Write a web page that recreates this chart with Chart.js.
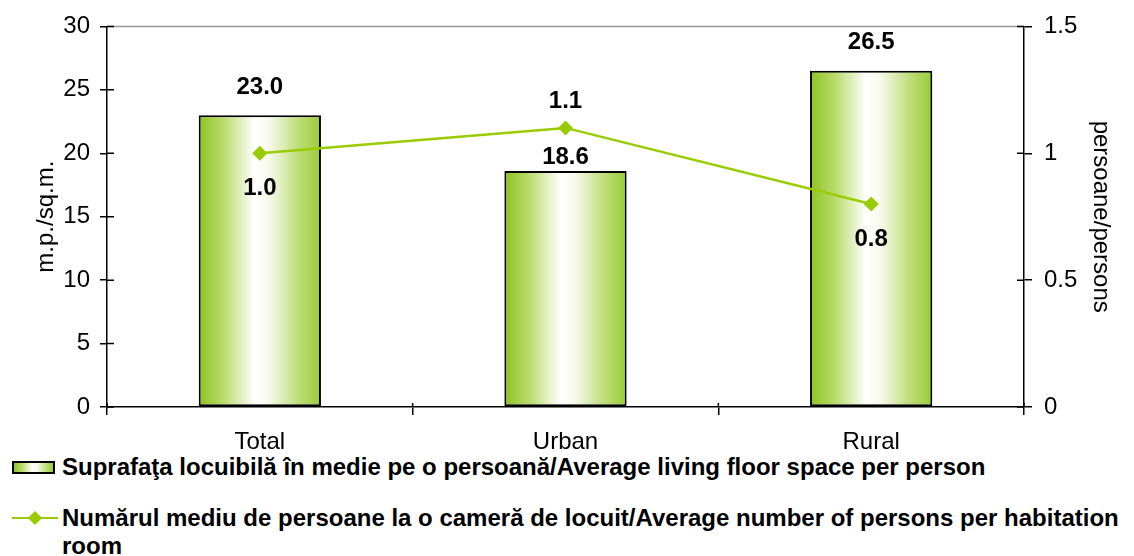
<!DOCTYPE html>
<html>
<head>
<meta charset="utf-8">
<script src="https://cdn.jsdelivr.net/npm/chart.js@4.4.0/dist/chart.umd.min.js"></script>
<style>
  body { margin: 0; background: #fff; font-family: "Liberation Sans", Arial, sans-serif; }
  #wrap { position: relative; width: 1134px; height: 556px; }
  #box { position: absolute; left: 0; top: 0; width: 1134px; height: 450px; }
  .leg { position: absolute; left: 12px; font-weight: bold; font-size: 24px; color: #000; line-height: 28px; }
  .leg .txt { position: absolute; left: 50px; top: 0; width: 1068px; }
  .sw { position: absolute; left: 0; top: 8px; width: 43px; height: 13px; box-sizing: border-box;
        border: 2px solid #000;
        background: linear-gradient(to right, #8fc31f 0%, #b8db6a 20%, #ffffff 48%, #f3f9e4 60%, #99cc33 100%); }
  .ln { position: absolute; left: 0; top: 13px; width: 46px; height: 2px; background: #99cc00; }
  .dm { position: absolute; left: 18px; top: 9px; width: 10px; height: 10px; background: #99cc00; transform: rotate(45deg); }
</style>
</head>
<body>
<div id="wrap">
  <div id="box"><canvas id="c"></canvas></div>
  <div class="leg" style="top:453px; height:28px; width:1120px;">
    <div class="sw"></div>
    <div class="txt">Suprafaţa locuibilă în medie pe o persoană/Average living floor space per person</div>
  </div>
  <div class="leg" style="top:504px; width:1120px;">
    <div class="ln"></div><div class="dm"></div>
    <div class="txt">Numărul mediu de persoane la o cameră de locuit/Average number of persons per habitation room</div>
  </div>
</div>
<script>
// categories and values
const categories = ['Total', 'Urban', 'Rural'];
const floorSpace = [23.0, 18.6, 26.5];
const personsPerRoom = [1.0, 1.1, 0.8];
const leftTicks = [0, 5, 10, 15, 20, 25, 30];
const rightTicks = [0, 0.5, 1, 1.5];

const green = '#99cc00';
const barPct = 0.4;

function barGradient(ctx) {
    const chart = ctx.chart;
    const x = chart.scales.x;
    if (!chart.chartArea || !x || ctx.dataIndex === undefined) return '#c5e07a';
    const cx = x.getPixelForValue(ctx.dataIndex);
    const w = (x.right - x.left) / categories.length * barPct;
    const g = chart.ctx.createLinearGradient(cx - w / 2, 0, cx + w / 2, 0);
    g.addColorStop(0, '#8fc31f');
    g.addColorStop(0.2, '#b8db6a');
    g.addColorStop(0.46, '#ffffff');
    g.addColorStop(0.58, '#f6faea');
    g.addColorStop(0.8, '#c2df80');
    g.addColorStop(1, '#99cc33');
    return g;
}

// value labels, offsets in px (negative = above)
const barLabelOffset = [-28, -14, -28];
const lineLabelOffset = [35, -27, 35];

const labelsPlugin = {
    id: 'labels',
    afterDatasetsDraw(chart) {
        const c = chart.ctx;
        c.save();
        c.font = 'bold 24px "Liberation Sans", Arial, sans-serif';
        c.fillStyle = '#000';
        c.textAlign = 'center';
        c.textBaseline = 'middle';
        chart.getDatasetMeta(1).data.forEach((el, i) => {
            c.fillText(floorSpace[i].toFixed(1), el.x, el.y + barLabelOffset[i]);
        });
        chart.getDatasetMeta(0).data.forEach((el, i) => {
            c.fillText(personsPerRoom[i].toFixed(1), el.x, el.y + lineLabelOffset[i]);
        });
        c.restore();
    }
};

// inner halves of the crossing tick marks and the grey top edge
const axisPlugin = {
    id: 'axisExtras',
    afterDraw(chart) {
        const c = chart.ctx;
        const a = chart.chartArea;
        const {x, y, y1} = chart.scales;
        c.save();
        c.strokeStyle = '#999';
        c.lineWidth = 1.5;
        c.beginPath();
        c.moveTo(a.left, a.top);
        c.lineTo(a.right, a.top);
        c.stroke();
        c.strokeStyle = '#000';
        c.lineWidth = 1.5;
        c.beginPath();
        leftTicks.forEach(v => {
            const py = y.getPixelForValue(v);
            c.moveTo(a.left, py); c.lineTo(a.left + 7, py);
        });
        rightTicks.forEach(v => {
            const py = y1.getPixelForValue(v);
            c.moveTo(a.right, py); c.lineTo(a.right - 7, py);
        });
        for (let i = 0; i <= categories.length; i++) {
            const px = x.left + (x.right - x.left) * i / categories.length;
            c.moveTo(px, a.bottom); c.lineTo(px, a.bottom - 4);
        }
        c.stroke();
        c.restore();
    }
};

const tickFont = { family: '"Liberation Sans", Arial, sans-serif', size: 24 };

new Chart(document.getElementById('c'), {
    type: 'bar',
    data: {
        labels: categories,
        datasets: [
            {
                type: 'line',
                label: 'Numărul mediu de persoane la o cameră de locuit/Average number of persons per habitation room',
                data: personsPerRoom,
                yAxisID: 'y1',
                borderColor: green,
                backgroundColor: green,
                borderWidth: 2.5,
                pointStyle: 'rectRot',
                pointRadius: 7.5,
                pointBorderWidth: 0,
                tension: 0,
                order: 0
            },
            {
                type: 'bar',
                label: 'Suprafaţa locuibilă în medie pe o persoană/Average living floor space per person',
                data: floorSpace,
                yAxisID: 'y',
                backgroundColor: barGradient,
                borderColor: '#000',
                borderWidth: 2,
                borderSkipped: false,
                barPercentage: barPct,
                categoryPercentage: 1,
                order: 1
            }
        ]
    },
    options: {
        responsive: true,
        maintainAspectRatio: false,
        animation: false,
        layout: { padding: { top: 25, left: 0, right: 0, bottom: 0 } },
        plugins: { legend: { display: false }, tooltip: { enabled: false } },
        scales: {
            x: {
                offset: true,
                grid: { offset: true, drawOnChartArea: false, color: '#000', lineWidth: 1.5, tickLength: 8 },
                border: { color: '#000', width: 1.5 },
                ticks: { color: '#000', font: tickFont, padding: 13 },
                afterFit(s) { s.height = 43; }
            },
            y: {
                position: 'left',
                min: 0, max: 30,
                afterBuildTicks(s) { s.ticks = leftTicks.map(v => ({ value: v })); },
                grid: { drawOnChartArea: false, color: '#000', lineWidth: 1.5, tickLength: 7 },
                border: { color: '#000', width: 1.5 },
                ticks: { color: '#000', font: tickFont, padding: 10 },
                title: { display: true, text: 'm.p./sq.m.', color: '#000', font: tickFont, padding: { top: 32, bottom: 0 } },
                afterFit(s) { s.width = 107; }
            },
            y1: {
                position: 'right',
                min: 0, max: 1.5,
                afterBuildTicks(s) { s.ticks = rightTicks.map(v => ({ value: v })); },
                grid: { drawOnChartArea: false, color: '#000', lineWidth: 1.5, tickLength: 8 },
                border: { color: '#000', width: 1.5 },
                ticks: { color: '#000', font: tickFont, padding: 12, callback: v => String(v) },
                title: { display: true, text: 'persoane/persons', color: '#000', font: tickFont, padding: { top: 19, bottom: 0 } },
                afterFit(s) { s.width = 110; }
            }
        }
    },
    plugins: [labelsPlugin, axisPlugin]
});
</script>
</body>
</html>
